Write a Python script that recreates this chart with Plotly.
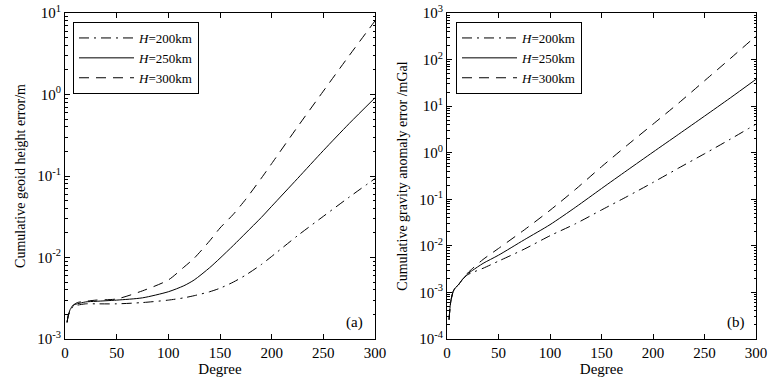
import plotly.graph_objects as go

# ---------------- data ----------------
deg_a = [2, 3, 5, 8, 12, 20, 30, 50, 75, 100, 115, 125, 140, 150, 163, 175, 190, 200, 225, 250, 275, 300]
geoid_h200 = [0.0016, 0.0019, 0.0022, 0.0025, 0.0026, 0.0027, 0.0027, 0.0027, 0.0028, 0.0030, 0.0032,
              0.0034, 0.0038, 0.0042, 0.0050, 0.0061, 0.0082, 0.0103, 0.0185, 0.032, 0.055, 0.093]
geoid_h250 = [0.0016, 0.0019, 0.0023, 0.0026, 0.0027, 0.00285, 0.0029, 0.0030, 0.0032, 0.0038, 0.0045,
              0.0053, 0.0075, 0.0098, 0.0141, 0.020, 0.031, 0.0425, 0.093, 0.205, 0.44, 0.91]
geoid_h300 = [0.0016, 0.0019, 0.0023, 0.0026, 0.0028, 0.0029, 0.0030, 0.0031, 0.0039, 0.0053, 0.0076,
              0.0098, 0.016, 0.023, 0.034, 0.052, 0.094, 0.142, 0.40, 1.1, 3.0, 8.0]

deg_b = [2, 3, 4, 6, 8, 11, 15, 20, 25, 35, 50, 75, 100, 125, 150, 175, 200, 225, 250, 275, 300]
grav_h200 = [0.00026, 0.00049, 0.0007, 0.00105, 0.00125, 0.00145, 0.0019, 0.0024, 0.0027, 0.0033, 0.0047,
             0.0085, 0.0165, 0.030, 0.059, 0.115, 0.23, 0.47, 0.95, 1.95, 4.1]
grav_h250 = [0.00026, 0.00049, 0.0007, 0.00105, 0.00125, 0.00145, 0.0019, 0.0025, 0.0030, 0.0042, 0.0063,
             0.0135, 0.0285, 0.068, 0.17, 0.42, 1.03, 2.5, 6.1, 15, 37.7]
grav_h300 = [0.00026, 0.00049, 0.0007, 0.00105, 0.00125, 0.00145, 0.0019, 0.0026, 0.0033, 0.0051, 0.0088,
             0.022, 0.058, 0.165, 0.50, 1.45, 4.1, 11.7, 35, 105, 320]

series_names = ["<i>H</i>=200km", "<i>H</i>=250km", "<i>H</i>=300km"]
x_ticks = [0, 50, 100, 150, 200, 250, 300]
y_exp_a = [-3, -2, -1, 0, 1]
y_exp_b = [-4, -3, -2, -1, 0, 1, 2, 3]

# ---------------- styling ----------------
FONT = "Liberation Serif, Times New Roman, serif"
dashes = ["10px,5px,2px,5px", "solid", "10px,7px"]

fig = go.Figure()

for vals, nm, ds in zip([geoid_h200, geoid_h250, geoid_h300], series_names, dashes):
    fig.add_trace(go.Scatter(x=deg_a, y=vals, mode="lines", name=nm,
                             line=dict(color="black", width=1, dash=ds, shape="spline", smoothing=0.7),
                             xaxis="x", yaxis="y", legend="legend"))
for vals, nm, ds in zip([grav_h200, grav_h250, grav_h300], series_names, dashes):
    fig.add_trace(go.Scatter(x=deg_b, y=vals, mode="lines", name=nm,
                             line=dict(color="black", width=1, dash=ds, shape="spline", smoothing=0.7),
                             xaxis="x2", yaxis="y2", legend="legend2"))

W, H = 773, 385
def fx(px):
    return px / W
def fy(py):
    return (H - py) / H

def minor_vals(exps):
    out = []
    for e in exps[:-1]:
        for m in range(2, 10):
            out.append(m * 10.0 ** e)
    return out

common_x = dict(range=[0, 300], tickvals=x_ticks, ticks="inside", ticklen=5, tickcolor="black",
                showline=True, linecolor="black", linewidth=1, mirror="allticks",
                showgrid=False, zeroline=False, automargin=False,
                tickfont=dict(family=FONT, size=15, color="black"),
                title=dict(text="Degree", font=dict(family=FONT, size=15, color="black"), standoff=0))

def y_axis(exps, title, dom):
    return dict(type="log", range=[exps[0], exps[-1]],
                tickvals=[10.0 ** e for e in exps],
                ticktext=["10<sup>%d</sup>" % e for e in exps],
                ticks="inside", ticklen=5, tickcolor="black",
                minor=dict(tickvals=minor_vals(exps), ticks="inside", ticklen=2.5, tickcolor="black", showgrid=False),
                showline=True, linecolor="black", linewidth=1, mirror="allticks",
                showgrid=False, zeroline=False, domain=dom, automargin=False,
                tickfont=dict(family=FONT, size=15, color="black"),
                title=dict(text=title, font=dict(family=FONT, size=14, color="black"), standoff=8))

ydom = [fy(339), fy(13)]
legend_common = dict(xanchor="left", yanchor="top", bgcolor="white",
                     bordercolor="black", borderwidth=1, itemwidth=55,
                     font=dict(family=FONT, size=13, color="black"), tracegroupgap=0)
fig.update_layout(
    width=W, height=H, autosize=False,
    margin=dict(l=0, r=0, t=0, b=0, autoexpand=False),
    paper_bgcolor="white", plot_bgcolor="white",
    font=dict(family=FONT, color="black"),
    xaxis=dict(common_x, domain=[fx(65), fx(375)], anchor="y"),
    yaxis=y_axis(y_exp_a, "Cumulative geoid height error/m", ydom) | dict(anchor="x"),
    xaxis2=dict(common_x, domain=[fx(447), fx(756)], anchor="y2"),
    yaxis2=y_axis(y_exp_b, "Cumulative gravity anomaly error /mGal", ydom) | dict(anchor="x2"),
    legend=dict(legend_common, x=fx(73), y=fy(22)),
    legend2=dict(legend_common, x=fx(456), y=fy(22)),
    showlegend=True,
    annotations=[
        dict(text="(a)", xref="x domain", yref="y domain", x=0.935, y=0.05, showarrow=False,
             xanchor="center", yanchor="middle", font=dict(family=FONT, size=15, color="black")),
        dict(text="(b)", xref="x2 domain", yref="y2 domain", x=0.935, y=0.05, showarrow=False,
             xanchor="center", yanchor="middle", font=dict(family=FONT, size=15, color="black")),
    ],
)

fig.write_html("out.html", config={"displayModeBar": False},
               post_script="document.body.style.margin='0';document.body.style.overflow='hidden';")
